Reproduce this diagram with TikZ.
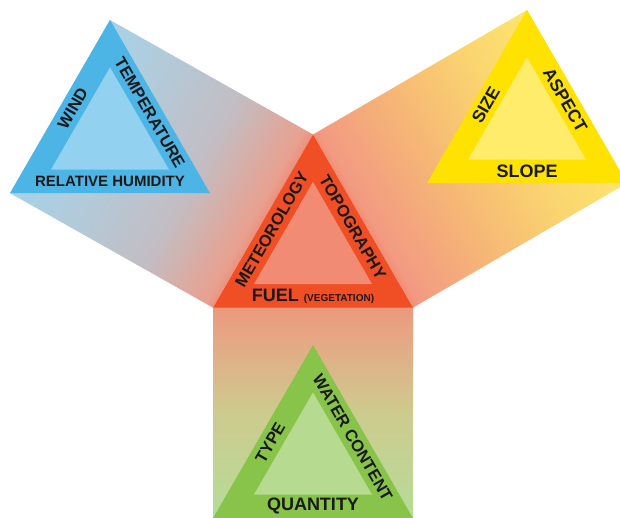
\documentclass[tikz,border=0pt]{standalone}
\usepackage{fontspec}
\setmainfont{Liberation Sans}
\usetikzlibrary{calc}

\definecolor{bluouter}{HTML}{4DB4E6}
\definecolor{bluinner}{HTML}{93D1F1}
\definecolor{redouter}{HTML}{F04E25}
\definecolor{redinner}{HTML}{F28B74}
\definecolor{yelouter}{HTML}{FFE200}
\definecolor{yelinner}{HTML}{FFEC6A}
\definecolor{grnouter}{HTML}{88C34A}
\definecolor{grninner}{HTML}{B6DB90}
% band colours, from the red side outwards
\definecolor{glowred}{HTML}{EE6248}
\definecolor{glowpeach}{HTML}{E9A08E}
\definecolor{bandgrey}{HTML}{C3BDC3}
\definecolor{bandbluemid}{HTML}{B0CCDC}
\definecolor{bandblu}{HTML}{A2D4EF}
\definecolor{glowsalmon}{HTML}{F29A82}
\definecolor{bandorange}{HTML}{F6B676}
\definecolor{bandyelmid}{HTML}{FAD470}
\definecolor{bandyel}{HTML}{FDE86E}
\definecolor{glowtan}{HTML}{E8A383}
\definecolor{bandgrnmid}{HTML}{CDCB8E}
\definecolor{bandgrn}{HTML}{B6DC98}

\pgfdeclareverticalshading{bluband}{100bp}{color(0bp)=(glowred);
  color(25bp)=(glowred); color(32bp)=(glowpeach); color(44bp)=(bandgrey);
  color(60bp)=(bandbluemid); color(75bp)=(bandblu); color(100bp)=(bandblu)}
\pgfdeclareverticalshading{yelband}{100bp}{color(0bp)=(glowred);
  color(25bp)=(glowred); color(31bp)=(glowsalmon); color(44bp)=(bandorange);
  color(58bp)=(bandyelmid); color(72bp)=(bandyel); color(100bp)=(bandyel)}
\pgfdeclareverticalshading{grnband}{100bp}{color(0bp)=(bandgrn);
  color(25bp)=(bandgrn); color(50bp)=(bandgrnmid); color(70bp)=(glowtan);
  color(75bp)=(glowtan!85!glowred); color(100bp)=(glowtan!85!glowred)}

\begin{document}
\begin{tikzpicture}[x=1pt, y=1pt,
    sidelabel/.style={font=\bfseries\fontsize{16.5}{16.5}\selectfont,
                      inner sep=0pt, text=black!90},
    baselabel/.style={font=\bfseries\fontsize{18}{18}\selectfont,
                      inner sep=0pt, text=black!90}
  ]
  \useasboundingbox (0,0) rectangle (620,518);
  \clip (0,0) rectangle (620,518);

  % triangle centres
  \coordinate (red) at (313,268);
  \coordinate (blu) at (110,382.5);
  \coordinate (yel) at (527,392.5);
  \coordinate (grn) at (313,57.5);

  % corners: apex, base left, base right
  \foreach \t in {red,blu,yel,grn} {
    \coordinate (\t-a) at ($(\t)+(0,115.5)$);
    \coordinate (\t-l) at ($(\t)+(-100,-57.7)$);
    \coordinate (\t-r) at ($(\t)+(100,-57.7)$);
  }

  % bands between the triangles
  \shade[shading=bluband, shading angle=60.5]
    (blu-a) -- (red-a) -- (red-l) -- (blu-l) -- cycle;
  \shade[shading=yelband, shading angle=-59.7]
    (red-a) -- (yel-a) -- (yel-r) -- (red-r) -- cycle;
  \shade[shading=grnband]
    (red-l) -- (red-r) -- (grn-r) -- (grn-l) -- cycle;

  % triangles
  \foreach \t/\co/\ci in {blu/bluouter/bluinner, yel/yelouter/yelinner,
                          grn/grnouter/grninner, red/redouter/redinner} {
    \fill[\co] (\t-a) -- (\t-r) -- (\t-l) -- cycle;
    \fill[\ci] ($(\t)!0.59!(\t-a)$) -- ($(\t)!0.59!(\t-r)$)
      -- ($(\t)!0.59!(\t-l)$) -- cycle;
  }

  % labels
  \node[sidelabel, rotate=60] (wind) at ($(blu)+(150:45.9)+(60:5)$) {WIND};
  \node[sidelabel, rotate=-60] (temp) at ($(blu)+(30:45.9)$) {TEMPERATURE};
  \node[sidelabel, font=\bfseries\fontsize{15}{15}\selectfont] (humid)
    at ($(blu)+(0,-45.9)$) {RELATIVE HUMIDITY};

  \node[sidelabel, rotate=60, font=\bfseries\fontsize{17.5}{17.5}\selectfont]
    (size) at ($(yel)+(150:45.9)+(60:-3)$) {SIZE};
  \node[sidelabel, rotate=-60, font=\bfseries\fontsize{17.5}{17.5}\selectfont]
    (aspect) at ($(yel)+(30:45.9)+(-60:-3)$) {ASPECT};
  \node[baselabel] (slope) at ($(yel)+(0,-45.9)$) {SLOPE};

  \node[sidelabel, rotate=60] (meteo) at ($(red)+(150:45.9)+(60:-3)$) {METEOROLOGY};
  \node[sidelabel, rotate=-60] (topo) at ($(red)+(30:45.9)$) {TOPOGRAPHY};
  \node[baselabel] (fuel) at ($(red)+(0,-45.9)$)
    {FUEL {\fontsize{10}{10}\selectfont (VEGETATION)}};

  \node[sidelabel, rotate=60] (type) at ($(grn)+(150:45.9)+(60:-6)$) {TYPE};
  \node[sidelabel, rotate=-60] (water) at ($(grn)+(30:45.9)$) {WATER CONTENT};
  \node[baselabel] (quant) at ($(grn)+(0,-45.9)$) {QUANTITY};
\end{tikzpicture}
\end{document}
